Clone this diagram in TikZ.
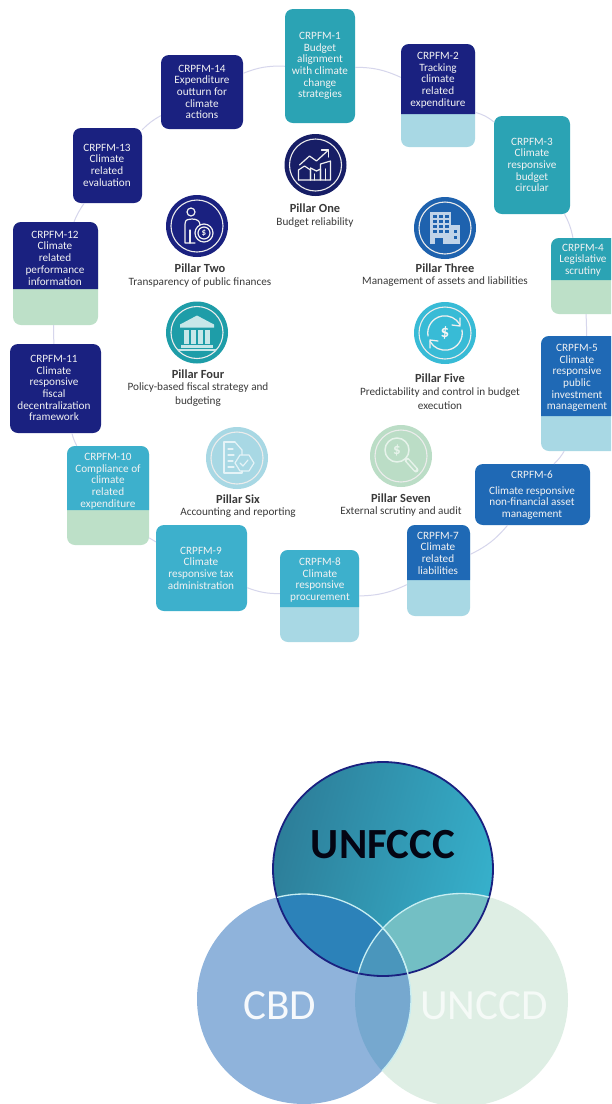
\documentclass[tikz,border=0pt]{standalone}
\usepackage{fontspec}
\setmainfont{Carlito}
\definecolor{navy}{HTML}{1A2180}
\definecolor{navydk}{HTML}{171E66}
\definecolor{teal}{HTML}{2BA3B4}
\definecolor{midblue}{HTML}{1F69B5}
\definecolor{sky}{HTML}{3DB0CC}
\definecolor{paleblue}{HTML}{A8D8E4}
\definecolor{palegreen}{HTML}{BDE0C8}
\definecolor{linkc}{HTML}{D6D6EC}
\definecolor{inktext}{HTML}{3A3A3A}
\definecolor{pthree}{HTML}{1E62AE}
\definecolor{pfour}{HTML}{1E9DA8}
\definecolor{pfive}{HTML}{38BBD6}
\definecolor{psix}{HTML}{A8D8E4}
\definecolor{pseven}{HTML}{BBDDC6}
\definecolor{vA}{HTML}{2D7E99}
\definecolor{vB}{HTML}{36B0CB}
\definecolor{vCBD}{HTML}{8FB3DB}
\definecolor{vUNCCD}{HTML}{DEEEE4}
\definecolor{vAB}{HTML}{2C82B9}
\definecolor{vAC}{HTML}{73BFC4}
\definecolor{vBC}{HTML}{76A8CF}
\definecolor{vABC}{HTML}{4A96BC}
\definecolor{vline}{HTML}{C8EEF2}
\tikzset{
  boxshape/.style={rectangle,inner sep=0pt,rounded corners=8pt},
  boxtext/.style={text=white!90!gray,font=\fontsize{11.2}{11.7}\selectfont,align=center,inner sep=0pt},
  link/.style={draw=linkc,line width=1pt},
  pillarc/.style={circle,inner sep=0pt,minimum size=62pt},
  ringl/.style={draw=white!85!gray,line width=1.1pt},
  ic/.style={draw=white!88!gray,line width=1.2pt,line join=round,line cap=round},
  ptitle/.style={font=\fontsize{12.4}{13}\selectfont\bfseries,text=inktext,inner sep=0pt},
  ptext/.style={font=\fontsize{11.2}{14}\selectfont,text=inktext,align=center,inner sep=0pt},
}
% name, x0, y0, x1, y1, full colour
\newcommand{\crbox}[6]{%
  \pgfmathsetmacro{\cw}{#4-#2}\pgfmathsetmacro{\ch}{#5-#3}%
  \pgfmathsetmacro{\cx}{(#2+#4)/2}\pgfmathsetmacro{\cy}{(#3+#5)/2}%
  \node[boxshape,fill=#6,minimum width=\cw pt,minimum height=\ch pt] (#1) at (\cx,\cy) {};}
% top part: x0,y0,x1,ydiv,colour
\newcommand{\crtop}[5]{%
  \fill[#5] (#1,#4) [rounded corners=8pt] -- (#1,#2) -- (#3,#2) [sharp corners] -- (#3,#4) -- cycle;}
\begin{document}
\begin{tikzpicture}[x=1pt,y=-1pt]
\useasboundingbox (0,0) rectangle (611,1104);
\fill[white] (0,0) rectangle (611,1104);
\clip (0,0) rectangle (611,1104);
% boxes
\crbox{c1}{285}{9}{355}{123}{teal}
\crbox{c2}{401}{44}{475}{147}{paleblue}\crtop{401}{44}{475}{114}{navy}
\crbox{c3}{494}{116}{570}{214}{teal}
\crbox{c4}{551}{238}{619}{314}{palegreen}\crtop{551}{238}{619}{280}{teal}
\crbox{c5}{541}{336}{627}{451}{paleblue}\crtop{541}{336}{627}{416}{midblue}
\crbox{c6}{475}{464}{590}{525}{midblue}
\crbox{c7}{407}{525}{470}{616}{paleblue}\crtop{407}{525}{470}{580}{midblue}
\crbox{c8}{280}{550}{359}{642}{paleblue}\crtop{280}{550}{359}{607}{sky}
\crbox{c9}{156}{525}{247}{611}{sky}
\crbox{c10}{67}{446}{149}{545}{palegreen}\crtop{67}{446}{149}{510}{sky}
\crbox{c11}{10}{344}{101}{433}{navy}
\crbox{c12}{13}{222}{98}{325}{palegreen}\crtop{13}{222}{98}{289}{navy}
\crbox{c13}{73}{128}{142}{203}{navy}
\crbox{c14}{161}{55}{243}{129}{navy}
% links
\foreach \a/\b/\k in {c1/c2/12,c2/c3/12,c3/c4/8,c4/c5/2,c5/c6/8,c6/c7/12,c7/c8/12,c8/c9/10,c9/c10/8,c10/c11/6,c11/c12/2,c12/c13/6,c13/c14/8,c14/c1/12}
  \draw[link] (\a) to[bend left=\k] (\b);
% box text
\node[boxtext] (t1) at (320,66) {CRPFM-1\\Budget\\alignment\\with climate\\change\\strategies};
\node[boxtext] (t2) at (438,80) {CRPFM-2\\Tracking\\climate\\related\\expenditure};
\node[boxtext] (t3) at (532,165) {CRPFM-3\\Climate\\responsive\\budget\\circular};
\node[boxtext] (t4) at (583,260) {CRPFM-4\\Legislative\\scrutiny};
\node[boxtext] (t5) at (577,378) {CRPFM-5\\Climate\\responsive\\public\\investment\\management};
\node[boxtext] (t6a) at (532,475) {CRPFM-6};
\node[boxtext] (t6) at (532,503) {Climate responsive\\non-financial asset\\management};
\node[boxtext] (t7) at (438,553) {CRPFM-7\\Climate\\related\\liabilities};
\node[boxtext] (t8) at (320,580) {CRPFM-8\\Climate\\responsive\\procurement};
\node[boxtext] (t9) at (201,568) {CRPFM-9\\Climate\\responsive tax\\administration};
\node[boxtext] (t10) at (108,481) {CRPFM-10\\Compliance of\\climate\\related\\expenditure};
\node[boxtext] (t11) at (54,388) {CRPFM-11\\Climate\\responsive\\fiscal\\decentralization\\framework};
\node[boxtext] (t12) at (55,258) {CRPFM-12\\Climate\\related\\performance\\information};
\node[boxtext] (t13) at (107,165) {CRPFM-13\\Climate\\related\\evaluation};
\node[boxtext] (t14) at (202,92) {CRPFM-14\\Expenditure\\outturn for\\climate\\actions};
% pillar circles
\node[pillarc,fill=navydk] (p1) at (315.5,165) {};
\node[pillarc,fill=navy] (p2) at (197,226) {};
\node[pillarc,fill=pthree] (p3) at (445,228) {};
\node[pillarc,fill=pfour] (p4) at (197,332.5) {};
\node[pillarc,fill=pfive] (p5) at (445,333) {};
\node[pillarc,fill=psix] (p6) at (237,458) {};
\node[pillarc,fill=pseven] (p7) at (401,456) {};
\foreach \p in {p1,p2,p3,p4,p5,p6,p7} \draw[ringl] (\p) circle[radius=26];
% icon one: rising bars
\begin{scope}[shift={(315.5,165)},ic]
  \draw (-16,0) -- (-6,-9) -- (1,-4) -- (13,-15);
  \draw (6,-15) -- (13,-15) -- (13,-8);
  \draw (-17,15) -- (-17,5) -- (-11,1) -- (-5,5) -- (-5,15);
  \draw (-5,15) -- (-5,3) -- (1,6) -- (5,4) -- (5,15);
  \draw (5,15) -- (5,-1) -- (15,-4) -- (15,15) -- (-17,15);
  \draw (-1,15) -- (-1,9); \draw (10,15) -- (10,4);
\end{scope}
% icon two: person and coin
\begin{scope}[shift={(197,226)},ic]
  \draw (-6,-14) circle[radius=4];
  \draw (-2,17) -- (-12,17) -- (-12,-2) .. controls (-12,-7) and (-8,-7) .. (-5,-7) .. controls (0,-7) and (3,-5) .. (3,-1);
  \draw (-7,17) -- (-7,4);
  \draw (7,7) circle[radius=9];
  \draw (7,7) circle[radius=6];
  \node[text=white!88!gray,inner sep=0pt,font=\fontsize{9}{9}\selectfont\bfseries] (p2d) at (7,7) {\$};
\end{scope}
% icon three: buildings
\begin{scope}[shift={(445,228)}]
  \fill[white!72!pthree] (-15,-16) rectangle (6,16);
  \fill[white!72!pthree] (6,-3) rectangle (15,16);
  \foreach \i in {-12,-6,0} \foreach \j in {-13,-8,-3,2} \fill[pthree] (\i,\j) rectangle +(3.5,3);
  \foreach \j in {2,8} \fill[pthree] (9,\j) rectangle +(3,3);
  \fill[pthree] (-10,10) rectangle (-2,16);
\end{scope}
% icon four: bank
\begin{scope}[shift={(197,332.5)}]
  \fill[white!75!pfour] (-17,-8) -- (0,-17) -- (17,-8) -- (17,-5) -- (-17,-5) -- cycle;
  \foreach \i in {-13,-6,1,8} \fill[white!75!pfour] (\i,-3) rectangle +(4.5,14);
  \fill[white!75!pfour] (-16,12) rectangle (16,15);
  \fill[white!75!pfour] (-19,16) rectangle (19,18);
\end{scope}
% icon five: cycle and dollar
\begin{scope}[shift={(445,333)},ic,line width=1.3pt]
  \draw (-17,3) arc[start angle=170,end angle=330,radius=17.2];
  \draw (15,-15) -- (15,-7) -- (7,-8);
  \draw (17,-3) arc[start angle=-10,end angle=150,radius=17.2];
  \draw (-15,15) -- (-15,7) -- (-7,8);
  \node[text=white!92!gray,inner sep=0pt,font=\fontsize{17}{17}\selectfont\bfseries] (p5d) at (0,0) {\$};
\end{scope}
% icon six: document with check
\begin{scope}[shift={(237,458)},ic,draw=white!70!psix]
  \draw (-2,-16) -- (-13,-16) -- (-13,15) -- (5,15) -- (5,13);
  \draw (-2,-16) -- (5,-8) -- (5,-3);
  \draw (-9,-9) -- (-4,-9) (-9,-3) -- (-3,-3) (-9,3) -- (-4,3) (-9,9) -- (-3,9);
  \draw (3,-3) -- (12,-3) -- (17,5) -- (12,13) -- (3,13) -- (-2,5) -- cycle;
  \draw (3,5) -- (6,8) -- (11,2);
\end{scope}
% icon seven: magnifier
\begin{scope}[shift={(401,456)},ic,draw=white!65!pseven,line width=1.5pt]
  \draw (-4,-6) circle[radius=12];
  \draw[line width=5pt] (6,4) -- (15,14);
  \draw[draw=pseven,line width=2pt] (6.5,4.5) -- (14.5,13.5);
  \node[text=white!65!pseven,inner sep=0pt,font=\fontsize{15}{15}\selectfont\bfseries] (p7d) at (-4,-6) {\$};
\end{scope}
% pillar labels
\node[ptitle] (l1) at (315,208) {Pillar One};
\node[ptext] (d1) at (315,223) {Budget reliability};
\node[ptitle] (l2) at (200,268) {Pillar Two};
\node[ptext] (d2) at (200,282.5) {Transparency of public finances};
\node[ptitle] (l3) at (445,268) {Pillar Three};
\node[ptext] (d3) at (445,282) {Management of assets and liabilities};
\node[ptitle] (l4) at (198,374) {Pillar Four};
\node[ptext] (d4) at (198,395) {Policy-based fiscal strategy and\\budgeting};
\node[ptitle] (l5) at (440,378) {Pillar Five};
\node[ptext] (d5) at (440,399) {Predictability and control in budget\\execution};
\node[ptitle] (l6) at (238,499) {Pillar Six};
\node[ptext] (d6) at (238,513) {Accounting and reporting};
\node[ptitle] (l7) at (401,498) {Pillar Seven};
\node[ptext] (d7) at (401,512) {External scrutiny and audit};
% Venn
\def\vA{(383,869) ellipse [x radius=110,y radius=107]}
\def\vB{(304,999) ellipse [x radius=107,y radius=105]}
\def\vC{(461.5,1000) ellipse [x radius=106.5,y radius=106.5]}
\fill[vUNCCD] \vC;
\fill[vCBD] \vB;
\begin{scope}\clip \vB; \fill[vBC] \vC;\end{scope}
\shade[left color=vA,right color=vB,shading angle=75] \vA;
\begin{scope}\clip \vA; \fill[vAC] \vC; \fill[vAB] \vB;
  \begin{scope}\clip \vB; \fill[vABC] \vC;\end{scope}
\end{scope}
\draw[navy,line width=1.8pt] \vA;
\begin{scope}\clip \vA; \draw[vline,line width=1.3pt] \vB;\end{scope}
\begin{scope}\clip \vC; \draw[vline,line width=1.3pt] \vB;\end{scope}
\begin{scope}\clip \vA; \draw[vline,line width=1.3pt] \vC;\end{scope}
\node[font=\fontsize{43}{43}\selectfont\bfseries,text=black!85!navy,inner sep=0pt] (vt1) at (383,845) {UNFCCC};
\node[font=\fontsize{43}{43}\selectfont,text=white!92!vCBD,inner sep=0pt] (vt2) at (280,1006) {CBD};
\node[font=\fontsize{43}{43}\selectfont,text=white!70!vUNCCD,inner sep=0pt] (vt3) at (484,1006) {UNCCD};
\end{tikzpicture}
\end{document}
